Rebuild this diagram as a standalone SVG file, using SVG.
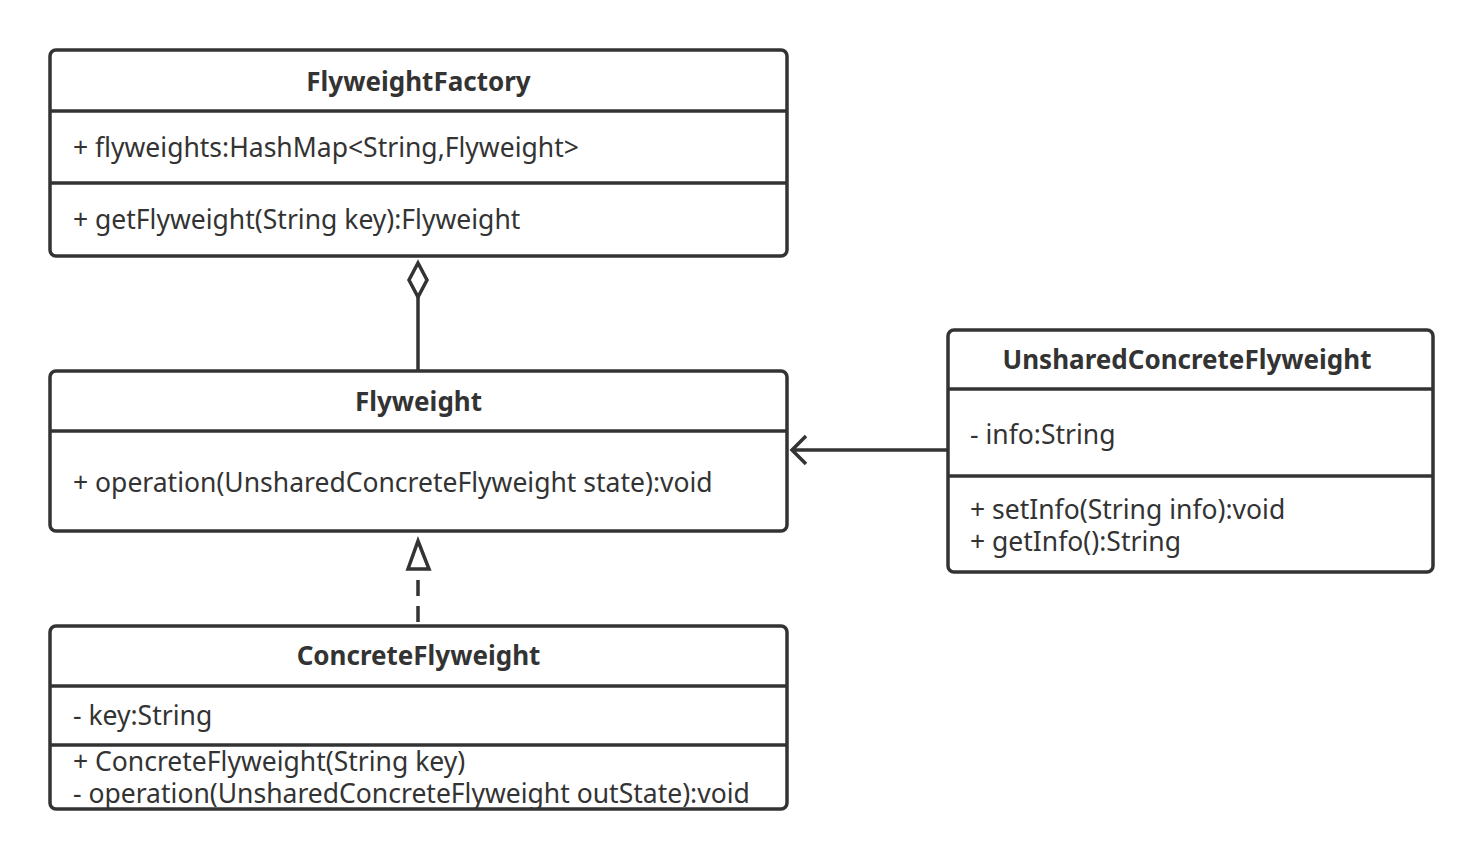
<svg xmlns="http://www.w3.org/2000/svg" width="1483" height="860" viewBox="0 0 1483 860">
<style>
.box{fill:#fff;stroke:#333;stroke-width:3.5}
.div{stroke:#333;stroke-width:3.5}
.t{font-family:"Noto Sans","Open Sans",sans-serif;font-size:26.5px;fill:#333}
.b{font-weight:bold;text-anchor:middle;font-size:26px}
.c{stroke:#333;stroke-width:3.5;fill:none}
</style>
<rect width="1483" height="860" fill="#fff"/>
<g id="FlyweightFactory">
<rect class="box" x="50" y="50" width="737" height="206" rx="6"/>
<line class="div" x1="50" y1="111" x2="787" y2="111"/>
<line class="div" x1="50" y1="183" x2="787" y2="183"/>
<text class="t b" x="418.5" y="91">FlyweightFactory</text>
<text class="t" x="73" y="157">+ flyweights:HashMap&lt;String,Flyweight&gt;</text>
<text class="t" x="73" y="229">+ getFlyweight(String key):Flyweight</text>
</g>
<g id="Flyweight">
<rect class="box" x="50" y="371" width="737" height="160" rx="6"/>
<line class="div" x1="50" y1="431" x2="787" y2="431"/>
<text class="t b" x="418.5" y="411">Flyweight</text>
<text class="t" x="73" y="492">+ operation(UnsharedConcreteFlyweight state):void</text>
</g>
<g id="ConcreteFlyweight">
<rect class="box" x="50" y="626" width="737" height="183" rx="6"/>
<line class="div" x1="50" y1="686" x2="787" y2="686"/>
<line class="div" x1="50" y1="745" x2="787" y2="745"/>
<text class="t b" x="418.5" y="665">ConcreteFlyweight</text>
<text class="t" x="73" y="725">- key:String</text>
<text class="t" x="73" y="771">+ ConcreteFlyweight(String key)</text>
<text class="t" x="73" y="803">- operation(UnsharedConcreteFlyweight outState):void</text>
</g>
<g id="UnsharedConcreteFlyweight">
<rect class="box" x="948" y="330" width="485" height="242" rx="6"/>
<line class="div" x1="948" y1="389" x2="1433" y2="389"/>
<line class="div" x1="948" y1="476" x2="1433" y2="476"/>
<text class="t b" x="1187" y="369">UnsharedConcreteFlyweight</text>
<text class="t" x="970" y="444">- info:String</text>
<text class="t" x="970" y="519">+ setInfo(String info):void</text>
<text class="t" x="970" y="551">+ getInfo():String</text>
</g>
<g id="connectors">
<path class="c" d="M418 297 L418 371"/>
<path class="c" d="M418 263 L427 280 L418 297 L409 280 Z"/>
<path class="c" d="M418 580 L418 626" stroke-dasharray="16 10"/>
<path class="c" d="M418 541 L429 569 L408 569 Z"/>
<path class="c" d="M948 450 L793 450"/>
<path class="c" d="M806 436 L792 450 L806 464"/>
</g>
</svg>
